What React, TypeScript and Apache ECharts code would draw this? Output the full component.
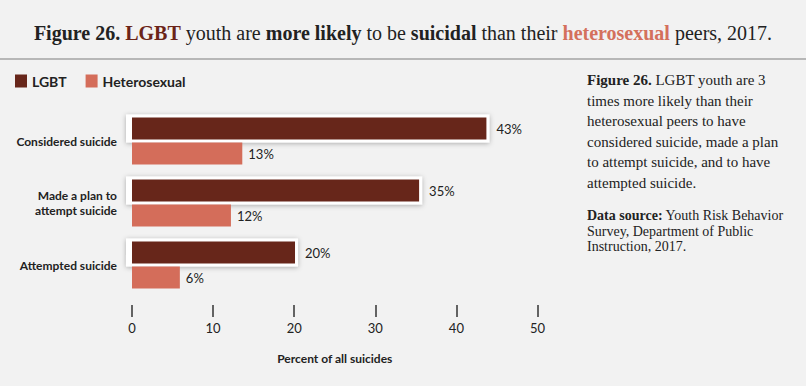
import React, { useEffect, useRef } from "react";
import * as echarts from "echarts";

const categories = ["Considered suicide", "Made a plan to\nattempt suicide", "Attempted suicide"];
const seriesNames = ["LGBT", "Heterosexual"];
const lgbtValues = [43.7, 35.4, 20.1];
const heteroValues = [13.6, 12.2, 5.9];
const lgbtLabels = ["43%", "35%", "20%"];
const heteroLabels = ["13%", "12%", "6%"];
const xMin = 0;
const xMax = 50;
const xInterval = 10;
const xAxisName = "Percent of all suicides";

const noteLines = [
  "{b|Figure 26.} LGBT youth are 3",
  "times more likely than their",
  "heterosexual peers to have",
  "considered suicide, made a plan",
  "to attempt suicide, and to have",
  "attempted suicide.",
];
const sourceLines = [
  "{b|Data source:} Youth Risk Behavior",
  "Survey, Department of Public",
  "Instruction, 2017.",
];

const DARK = "#67261a";
const LIGHT = "#d46d5a";
const BAR_W = 22;
const GAP = 3;
const SANS = "Lato, 'Noto Sans', sans-serif";
const SERIF = "'Liberation Serif', 'DejaVu Serif', serif";

export default function App() {
  const ref = useRef<HTMLDivElement>(null);
  useEffect(() => {
    document.body.style.margin = "0";
    if (!ref.current) return;
    const chart = echarts.init(ref.current, undefined, { renderer: "svg" });
    const option: any = {
      animation: false,
      backgroundColor: "#f2f2f2",
      title: {
        left: "center",
        top: 18,
        text:
          "{b|Figure 26.} {r|LGBT} youth are {b|more likely} to be {b|suicidal} than their {s|heterosexual} peers, 2017.",
        textStyle: {
          fontFamily: SERIF,
          fontSize: 20,
          fontWeight: "normal",
          color: "#222",
          rich: {
            b: { fontFamily: SERIF, fontSize: 20, fontWeight: "bold", color: "#222" },
            r: { fontFamily: SERIF, fontSize: 20, fontWeight: "bold", color: "#6b2418" },
            s: { fontFamily: SERIF, fontSize: 20, fontWeight: "bold", color: "#d4705c" },
          },
        },
      },
      legend: {
        data: seriesNames,
        left: 15,
        top: 74,
        padding: 0,
        icon: "rect",
        itemWidth: 12,
        itemHeight: 13,
        itemGap: 19,
        textStyle: { fontFamily: SANS, fontWeight: "bold", fontSize: 14, color: "#222" },
      },
      graphic: [
        {
          type: "line",
          shape: { x1: 0, y1: 59, x2: 806, y2: 59 },
          style: { stroke: "#a3a3a3", lineWidth: 1.5 },
        },
        {
          type: "text",
          left: 587,
          top: 70,
          style: {
            text: noteLines.join("\n"),
            fontFamily: SERIF,
            fontSize: 15,
            lineHeight: 20.5,
            fill: "#222",
            rich: {
              b: { fontFamily: SERIF, fontSize: 15, fontWeight: "bold", fill: "#222", lineHeight: 20.5 },
            },
          },
        },
        {
          type: "text",
          left: 587,
          top: 208,
          style: {
            text: sourceLines.join("\n"),
            fontFamily: SERIF,
            fontSize: 14,
            lineHeight: 15.5,
            fill: "#222",
            rich: {
              b: { fontFamily: SERIF, fontSize: 14, fontWeight: "bold", fill: "#222", lineHeight: 15.5 },
            },
          },
        },
      ],
      grid: { left: 132, right: 268.5, top: 110, bottom: 90, containLabel: false },
      xAxis: {
        type: "value",
        min: xMin,
        max: xMax,
        interval: xInterval,
        offset: 9,
        axisLine: { show: false },
        splitLine: { show: false },
        axisTick: { show: true, length: 12, lineStyle: { color: "#333", width: 1.5 } },
        axisLabel: { margin: 16, fontFamily: SANS, fontSize: 13, color: "#222" },
        name: xAxisName,
        nameLocation: "middle",
        nameGap: 47,
        nameTextStyle: { fontFamily: SANS, fontWeight: "bold", fontSize: 12, color: "#222" },
      },
      yAxis: {
        type: "category",
        inverse: true,
        data: categories,
        axisLine: { show: false },
        axisTick: { show: false },
        axisLabel: {
          margin: 15,
          fontFamily: SANS,
          fontWeight: "bold",
          fontSize: 12,
          lineHeight: 15,
          color: "#222",
          align: "right",
        },
      },
      series: [
        {
          type: "custom",
          name: "box",
          z: 1,
          silent: true,
          encode: { x: 0, y: 1 },
          data: lgbtValues.map((v, i) => [v, i]),
          renderItem: (params: any, api: any) => {
            const v = api.value(0);
            const idx = api.value(1);
            const start = api.coord([0, idx]);
            const end = api.coord([v, idx]);
            const top = start[1] - (BAR_W * 2 + GAP) / 2;
            return {
              type: "rect",
              shape: { x: start[0] - 6, y: top - 3, width: end[0] - start[0] + 9, height: BAR_W + 6 },
              style: {
                fill: "#ffffff",
                shadowBlur: 5,
                shadowColor: "rgba(0,0,0,0.3)",
                shadowOffsetX: 0,
                shadowOffsetY: 1,
              },
            };
          },
        },
        {
          type: "bar",
          name: seriesNames[0],
          z: 3,
          data: lgbtValues,
          barWidth: BAR_W,
          barGap: (GAP / BAR_W) * 100 + "%",
          itemStyle: { color: DARK },
          label: {
            show: true,
            position: "right",
            distance: 10,
            formatter: (p: any) => lgbtLabels[p.dataIndex],
            fontFamily: SANS,
            fontSize: 13,
            color: "#222",
          },
        },
        {
          type: "bar",
          name: seriesNames[1],
          z: 3,
          data: heteroValues,
          barWidth: BAR_W,
          itemStyle: { color: LIGHT },
          label: {
            show: true,
            position: "right",
            distance: 6,
            formatter: (p: any) => heteroLabels[p.dataIndex],
            fontFamily: SANS,
            fontSize: 13,
            color: "#222",
          },
        },
      ],
    };
    chart.setOption(option);
    return () => chart.dispose();
  }, []);
  return <div ref={ref} style={{ width: 806, height: 386 }} />;
}
